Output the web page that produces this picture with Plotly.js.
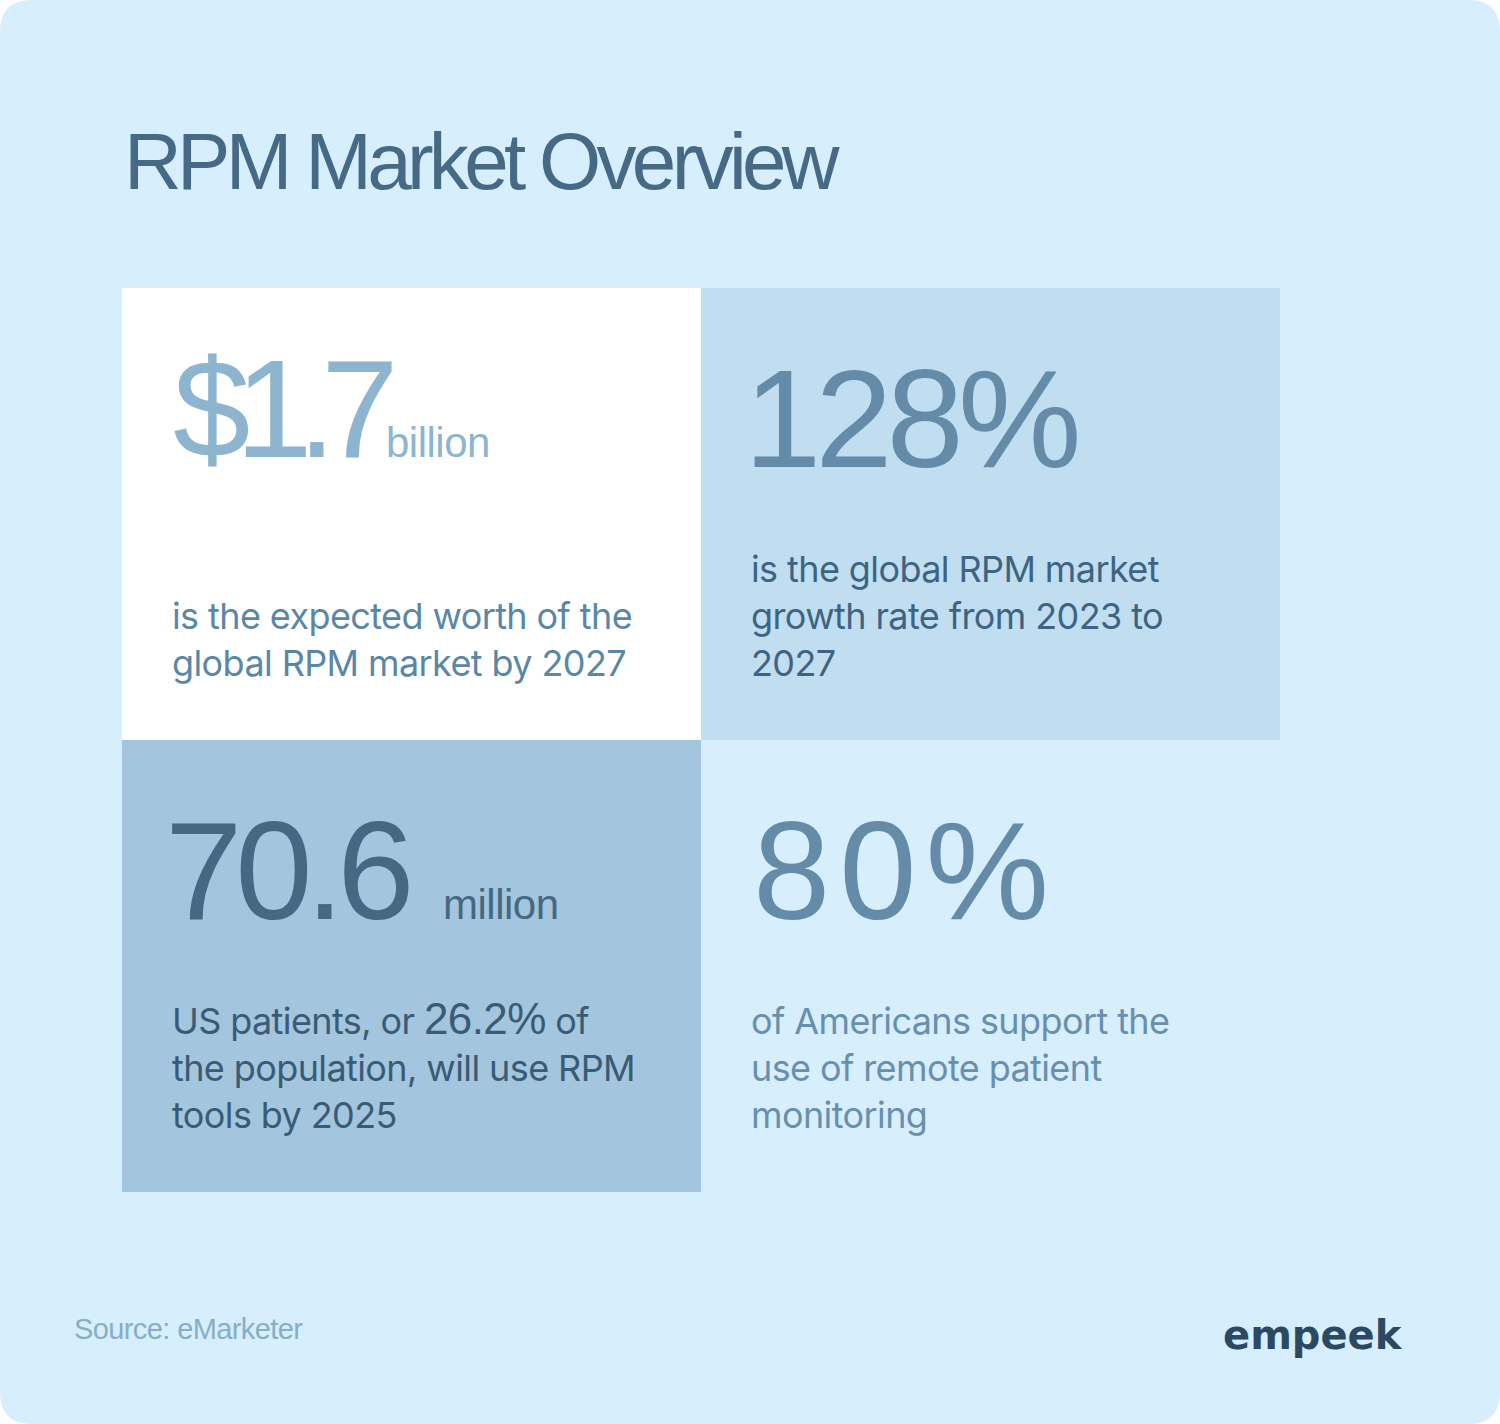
<!DOCTYPE html>
<html>
<head>
<meta charset="utf-8">
<script src="https://cdn.plot.ly/plotly-3.0.1.min.js"></script>
<style>
  html, body { margin: 0; padding: 0; background: #ffffff; }
  #chart { width: 1500px; height: 1424px; }
</style>
</head>
<body>
<div id="chart"></div>
<script>
// ---- data ----
const chartTitle = "RPM Market Overview";
const statValues = ["$1.7", "128%", "70.6", "80%"];
const statUnits = ["billion", "", "million", ""];
const statDescriptions = [
  "is the expected worth of the<br>global RPM market by 2027",
  "is the global RPM market<br>growth rate from 2023 to<br>2027",
  "US patients, or 26.2% of<br>the population, will use RPM<br>tools by 2025",
  "of Americans support the<br>use of remote patient<br>monitoring"
];
const statHighlights = ["", "", "26.2%", ""];
const sourceText = "Source: eMarketer";
const brandText = "empeek";

// ---- styles / layout constants ----
const W = 1500, H = 1424;
const BG = "#d7eefd";
const cellFills = ["#ffffff", "#c1def0", "#a3c5dd", "rgba(0,0,0,0)"];
const numberColors = ["#8db5cf", "#648ca9", "#456983", "#648ca9"];
const descColors = ["#5b87a7", "#3d6583", "#3a5b74", "#6890ae"];
// tight display tracking for the big figures
const numberSpacing = [-15, -6, -7, 9];
const numberOffsetX = [49, 41, 41, 50];
const unitOffsetX = [262, 0, 319, 0];
const numberBaseline = [170, 180, 180, 180];
const GRID = { x0: 122, y0: 288, w: 579, h: 452, padX: 48, descBaseline: 389 };
const NUM_FONT = "Liberation Sans, Arial, sans-serif";
const BODY_FONT = "Inter, Liberation Sans, sans-serif";
const NUM_SIZE = 139, UNIT_SIZE = 42, BODY_SIZE = 36;
const LIB_DESC = 0.212, INTER_DESC = 0.242;

const shapes = [];
const annotations = [];
const spacing = [];

// rounded background
const r = 32;
shapes.push({
  type: "path", xref: "x", yref: "y", layer: "below",
  path: `M ${r},0 L ${W - r},0 Q ${W},0 ${W},${r} L ${W},${H - r} Q ${W},${H} ${W - r},${H} L ${r},${H} Q 0,${H} 0,${H - r} L 0,${r} Q 0,0 ${r},0 Z`,
  fillcolor: BG, line: { width: 0 }
});

function addText(text, x, baseline, size, family, color, ls, descRatio) {
  annotations.push({
    xref: "x", yref: "y", x: x, y: baseline + descRatio * size + 1,
    xanchor: "left", yanchor: "bottom", align: "left",
    text: text, showarrow: false,
    font: { family: family, size: size, color: color }
  });
  spacing.push(ls || 0);
}

statValues.forEach((val, i) => {
  const col = i % 2, row = Math.floor(i / 2);
  const cx = GRID.x0 + col * GRID.w;
  const cy = GRID.y0 + row * GRID.h;
  shapes.push({
    type: "rect", xref: "x", yref: "y", layer: "below",
    x0: cx, x1: cx + GRID.w, y0: cy, y1: cy + GRID.h,
    fillcolor: cellFills[i], line: { width: 0 }
  });
  addText(val, cx + numberOffsetX[i], cy + numberBaseline[i], NUM_SIZE, NUM_FONT, numberColors[i], numberSpacing[i], LIB_DESC);
  if (statUnits[i]) {
    addText(statUnits[i], cx + unitOffsetX[i], cy + numberBaseline[i], UNIT_SIZE, NUM_FONT, numberColors[i], -0.5, LIB_DESC);
  }
  let desc = statDescriptions[i];
  if (statHighlights[i]) {
    desc = desc.replace(statHighlights[i],
      '<span style="font-family:Liberation Sans, Arial, sans-serif;font-size:44px">' + statHighlights[i] + '</span>');
  }
  addText(desc, cx + GRID.padX, cy + GRID.descBaseline, BODY_SIZE, BODY_FONT, descColors[i], -0.6, INTER_DESC);
});

addText(chartTitle, 122, 190, 80, NUM_FONT, "#466a85", -4.7, LIB_DESC);
addText(sourceText, 72, 1340, 29, NUM_FONT, "#86aec9", -0.6, LIB_DESC);
annotations.push({
  xref: "x", yref: "y", x: 1405, y: 1350 + 0.236 * 40 + 1,
  xanchor: "right", yanchor: "bottom", align: "right",
  text: "<b>" + brandText + "</b>", showarrow: false,
  font: { family: "DejaVu Sans, sans-serif", size: 40, color: "#2b4a62" }
});
spacing.push(0);

const layout = {
  width: W, height: H,
  margin: { l: 0, r: 0, t: 0, b: 0, pad: 0 },
  paper_bgcolor: "#ffffff", plot_bgcolor: "rgba(0,0,0,0)",
  xaxis: { range: [0, W], visible: false, fixedrange: true },
  yaxis: { range: [H, 0], visible: false, fixedrange: true },
  shapes: shapes, annotations: annotations, showlegend: false
};

Plotly.newPlot("chart", [], layout, { staticPlot: true, displayModeBar: false }).then(() => {
  spacing.forEach((ls, i) => {
    if (!ls) return;
    const t = document.querySelector('.annotation[data-index="' + i + '"] text.annotation-text');
    if (t) t.style.letterSpacing = ls + "px";
  });
});
</script>
</body>
</html>
